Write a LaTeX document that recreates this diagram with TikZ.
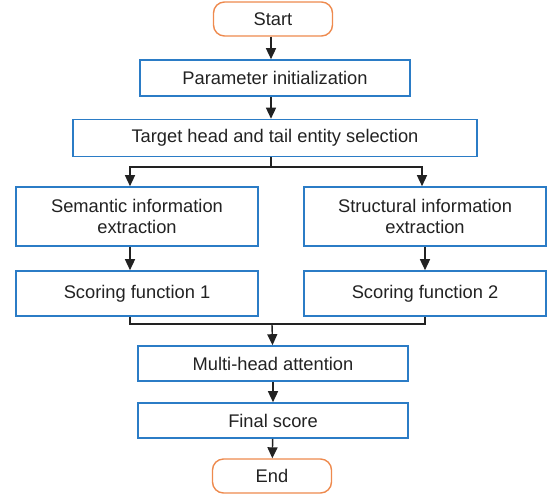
\documentclass[tikz,border=0pt]{standalone}
\usepackage{fontspec}
\setmainfont{Liberation Sans}
\usetikzlibrary{arrows.meta}
\definecolor{boxblue}{HTML}{2B7CC6}
\definecolor{termorange}{HTML}{EE8A4E}
\definecolor{linedark}{HTML}{222222}
\tikzset{
  stepbox/.style={draw=boxblue, line width=1.6pt, fill=white, inner sep=0pt,
    align=center, font=\fontsize{18.3}{21}\selectfont, text=linedark},
  termbox/.style={draw=termorange, line width=1.4pt, fill=white, rounded corners=11pt,
    inner sep=0pt, font=\fontsize{18.3}{21}\selectfont, text=linedark},
  flow/.style={draw=linedark, line width=1.4pt, -{Triangle[length=11pt,width=10pt]}},
  link/.style={draw=linedark, line width=1.4pt}
}
\begin{document}
\begin{tikzpicture}[x=1pt,y=-1pt]
  \useasboundingbox (0,0) rectangle (548,498);
  % terminals
  \node[termbox, minimum width=119pt, minimum height=34pt] (start) at (273,19) {Start};
  \node[termbox, minimum width=119pt, minimum height=34pt] (end) at (272,476) {End};
  % process steps
  \node[stepbox, minimum width=270pt, minimum height=36pt] (init) at (275,78) {Parameter initialization};
  \node[stepbox, minimum width=404pt, minimum height=37pt] (target) at (275,138) {Target head and tail entity selection};
  \node[stepbox, minimum width=242pt, minimum height=59pt] (sem) at (137,216.5) {Semantic information\\extraction};
  \node[stepbox, minimum width=242pt, minimum height=59pt] (str) at (425,216.5) {Structural information\\extraction};
  \node[stepbox, minimum width=242pt, minimum height=45pt] (sc1) at (137,293.5) {Scoring function 1};
  \node[stepbox, minimum width=242pt, minimum height=45pt] (sc2) at (425,293.5) {Scoring function 2};
  \node[stepbox, minimum width=270pt, minimum height=35pt] (mha) at (273,363.5) {Multi-head attention};
  \node[stepbox, minimum width=270pt, minimum height=35pt] (final) at (273,420.5) {Final score};
  % branch and join points
  \coordinate (split) at (271,167);
  \coordinate (merge) at (272,324);
  \coordinate (semin) at ([xshift=-7pt]sem.north);
  \coordinate (semout) at ([xshift=-7pt]sem.south);
  \coordinate (sc1in) at ([xshift=-7pt]sc1.north);
  \coordinate (sc1out) at ([xshift=-7pt]sc1.south);
  % connectors
  \draw[flow] (start.south -| split) -- (init.north -| split);
  \draw[flow] (init.south -| split) -- (target.north -| split);
  \draw[link] (target.south -| split) -- (split);
  \draw[flow] (split) -| (semin);
  \draw[flow] (split) -| ([xshift=-3pt]str.north);
  \draw[flow] (semout) -- (sc1in);
  \draw[flow] (str) -- (sc2);
  \draw[link] (sc1out) |- (merge);
  \draw[link] (sc2.south) |- (merge);
  \draw[flow] (merge) -- (mha);
  \draw[flow] (mha) -- (final);
  \draw[flow] (final) -- (end);
\end{tikzpicture}
\end{document}
